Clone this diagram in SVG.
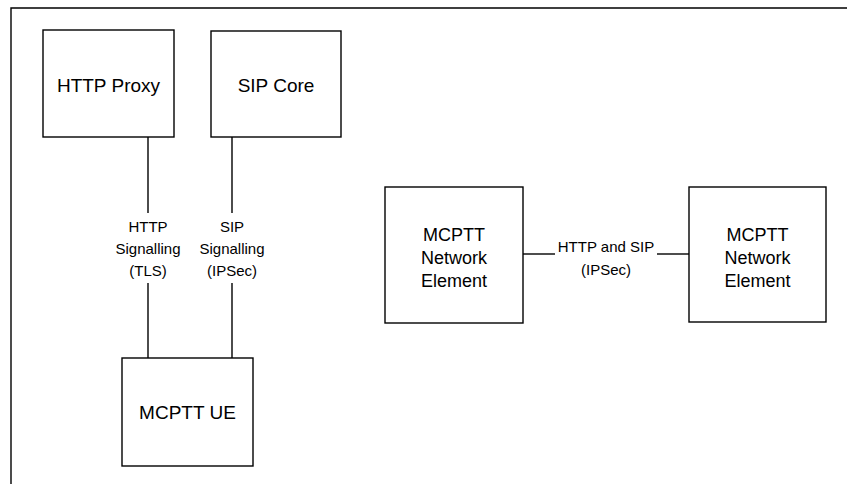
<svg xmlns="http://www.w3.org/2000/svg" width="847" height="484" viewBox="0 0 847 484">
<style>
.box{fill:#fff;stroke:#000;stroke-width:1.4}
.ln{fill:none;stroke:#000;stroke-width:1.4}
.big{font-family:"Liberation Sans",Arial,sans-serif;font-size:19px;fill:#000;text-anchor:middle}
.ne{font-family:"Liberation Sans",Arial,sans-serif;font-size:18px;fill:#000;text-anchor:middle}
.sm{font-family:"Liberation Sans",Arial,sans-serif;font-size:15px;fill:#000;text-anchor:middle}
</style>
<rect width="847" height="484" fill="#fff"/>
<g id="frame">
<polyline class="ln" points="11,484 11,8 847,8"/>
</g>
<g id="connectors">
<line class="ln" x1="148" y1="137" x2="148" y2="213"/>
<line class="ln" x1="148" y1="283" x2="148" y2="358"/>
<line class="ln" x1="232" y1="137" x2="232" y2="213"/>
<line class="ln" x1="232" y1="283" x2="232" y2="358"/>
<line class="ln" x1="523" y1="254" x2="555" y2="254"/>
<line class="ln" x1="657" y1="254" x2="689" y2="254"/>
<text class="sm" x="148" y="232">HTTP</text>
<text class="sm" x="148" y="254">Signalling</text>
<text class="sm" x="148" y="276">(TLS)</text>
<text class="sm" x="232" y="232">SIP</text>
<text class="sm" x="232" y="254">Signalling</text>
<text class="sm" x="232" y="276">(IPSec)</text>
<text class="sm" x="606" y="252">HTTP and SIP</text>
<text class="sm" x="606" y="275">(IPSec)</text>
</g>
<g id="http-proxy">
<rect class="box" x="43" y="30" width="131" height="107"/>
<text class="big" x="108.5" y="92">HTTP Proxy</text>
</g>
<g id="sip-core">
<rect class="box" x="211" y="31" width="130" height="106"/>
<text class="big" x="276" y="92">SIP Core</text>
</g>
<g id="mcptt-ue">
<rect class="box" x="122" y="358" width="131" height="108"/>
<text class="big" x="187.5" y="419">MCPTT UE</text>
</g>
<g id="ne-left">
<rect class="box" x="385" y="187" width="138" height="136"/>
<text class="ne" x="454" y="241">MCPTT</text>
<text class="ne" x="454" y="264">Network</text>
<text class="ne" x="454" y="287">Element</text>
</g>
<g id="ne-right">
<rect class="box" x="689" y="187" width="137" height="135"/>
<text class="ne" x="757.5" y="241">MCPTT</text>
<text class="ne" x="757.5" y="264">Network</text>
<text class="ne" x="757.5" y="287">Element</text>
</g>
</svg>
